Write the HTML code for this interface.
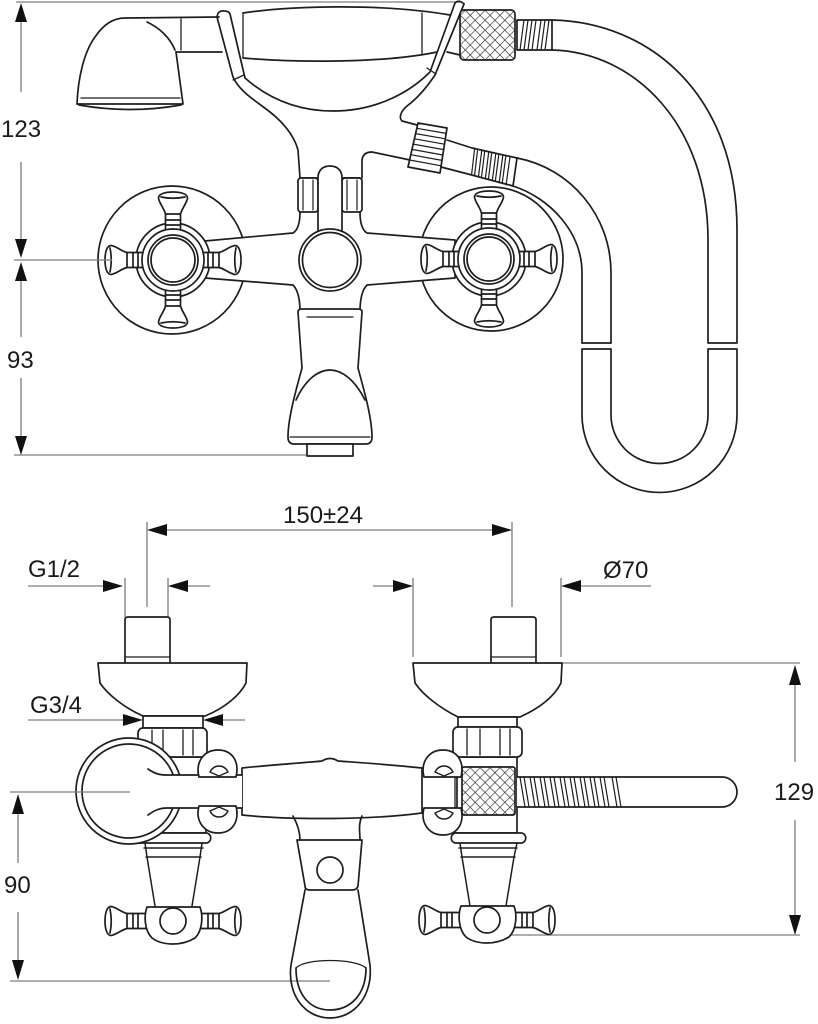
<!DOCTYPE html>
<html><head><meta charset="utf-8"><style>
html,body{margin:0;padding:0;background:#fff;}
svg{display:block;}
text{font-family:"Liberation Sans",Arial,sans-serif;font-size:24px;fill:#1a1a1a;}
</style></head><body>
<svg width="818" height="1024" viewBox="0 0 818 1024" xmlns="http://www.w3.org/2000/svg">
<defs>
 <pattern id="knurl" width="7" height="7" patternUnits="userSpaceOnUse" patternTransform="rotate(45)">
  <rect width="7" height="7" fill="#fff"/>
  <path d="M0,0 L0,7 M0,0 L7,0" stroke="#222" stroke-width="1.2"/>
 </pattern>
 <g id="spoke">
  <path d="M-7.5,-26 L-7.5,-46 C-9,-52 -14,-57 -14.5,-62 C-14.5,-66 -8,-68 0,-68 C8,-68 14.5,-66 14.5,-62 C14,-57 9,-52 7.5,-46 L7.5,-26 Z" fill="#fff"/>
  <path d="M-7.5,-46 L7.5,-46 M-7.5,-40 L7.5,-40 M-7.5,-35 L7.5,-35 M-12,-63 Q0,-60.5 12,-63" fill="none"/>
 </g>
 <g id="knobTop">
  <circle r="37" fill="#fff"/>
  <use href="#spoke"/>
  <use href="#spoke" transform="rotate(90)"/>
  <use href="#spoke" transform="rotate(180)"/>
  <use href="#spoke" transform="rotate(270)"/>
  <circle r="31" fill="#fff"/>
  <circle r="25" fill="#fff"/>
  <circle r="22" fill="none"/>
 </g>
 <g id="knobSide">
  <use href="#spoke" transform="rotate(-90)"/>
  <use href="#spoke" transform="rotate(90)"/>
  <path d="M-26,-14 L27,-14 C30,-6 30,9 22,17 Q12,23 0,23 Q-13,23 -21,17 C-29,9 -29,-6 -26,-14 Z" fill="#fff"/>
  <circle cx="0" cy="0" r="13" fill="#fff"/>
 </g>
</defs>

<!-- ================= DIMENSIONS (grey lines) ================= -->
<g stroke="#7d7d7d" stroke-width="1.3" fill="none">
 <path d="M16,2 L462,2"/>
 <path d="M21,20 L21,92 M21,162 L21,240"/>
 <path d="M21,280 L21,337 M21,378 L21,437"/>
 <path d="M14,455 L307,455"/>
 <path d="M165,530 L494,530 M147,522 L147,607 M512,522 L512,607"/>
 <path d="M28,586 L104,586 M125,578 L125,617 M186,586 L210,586 M168,578 L168,617"/>
 <path d="M373,586 L394,586 M413,578 L413,657 M580,586 L651,586 M561,578 L561,657"/>
 <path d="M28,720 L124,720 M222,720 L245,720"/>
 <path d="M562,663 L800,663 M795,684 L795,762 M795,820 L795,916 M505,935 L800,935"/>
 <path d="M18,812 L18,863 M18,912 L18,962 M10,981 L330,981"/>
</g>
<g fill="#111" stroke="none">
 <polygon points="21,3 15,22 27,22"/>
 <polygon points="21,258 15,239 27,239"/>
 <polygon points="21,262 15,281 27,281"/>
 <polygon points="21,455 15,436 27,436"/>
 <polygon points="147,530 167,524 167,536"/>
 <polygon points="512,530 492,524 492,536"/>
 <polygon points="123,586 103,580 103,592"/>
 <polygon points="168,586 188,580 188,592"/>
 <polygon points="413,586 393,580 393,592"/>
 <polygon points="561,586 581,580 581,592"/>
 <polygon points="143,720 123,714 123,726"/>
 <polygon points="203,720 223,714 223,726"/>
 <polygon points="795,665 789,685 801,685"/>
 <polygon points="795,935 789,915 801,915"/>
 <polygon points="18,794 12,814 24,814"/>
 <polygon points="18,980 12,960 24,960"/>
</g>
<text x="1" y="137">123</text>
<text x="7" y="368">93</text>
<text x="283" y="523">150±24</text>
<text x="28" y="577">G1/2</text>
<text x="603" y="578">Ø70</text>
<text x="30" y="713">G3/4</text>
<text x="774" y="800">129</text>
<text x="4" y="893">90</text>

<!-- ================= TOP VIEW ================= -->
<g stroke="#1e1e1e" stroke-width="1.7" fill="none" stroke-linejoin="round" stroke-linecap="round">
 <path d="M77,104 C78,78 84,52 95,37 C103,25 113,18 125,18 L219,17"/>
 <path d="M147,22 C160,28 170,38 175,50"/>
 <path d="M176,52 L183,104 L77,104"/>
 <path d="M79,105 Q130,114 181,105"/>
 <path d="M81,98 L180,98" stroke-width="1.3"/>
 <path d="M176,52 L222,52"/>
 <path d="M181,19 L181,50" stroke-width="1.3"/>

 <path d="M243,13 C290,6 380,3 450,15"/>
 <path d="M243,58 C290,62 380,64 437,52"/>
 <path d="M243,13 L243,58" stroke-width="1.3"/>
 <path d="M422,13 L422,55" stroke-width="1.3"/>
 <path d="M447,52 L460,55"/>

 <path d="M217,17 Q218,10 224,11 Q229,11 230,14"/>
 <path d="M217,17 L233,77 C238,88 248,96 262,106 C282,120 294,135 298,150 L300,178"/>
 <path d="M230,14 L245,78 C270,100 300,111 333,111 C370,111 405,97 430,72 L455,3"/>
 <path d="M455,3 Q459,-1 464,4"/>
 <path d="M464,4 L435,75 C425,90 415,100 407,106 C400,112 399,118 402,121 L417,125"/>
 <path d="M233,80 L244,75 M427,68 L436,74" stroke-width="1.3"/>

 <rect x="460" y="10" width="55" height="50" rx="4" fill="url(#knurl)"/>
 <rect x="517" y="20" width="35" height="30" fill="#fff"/>
 <path d="M520,50 L524,20 M524,50 L528,20 M528,50 L532,20 M532,50 L536,20 M537,50 L541,20 M541,50 L545,20 M545,50 L549,20" stroke-width="1.2"/>

 <path d="M552,20 C650,22 737,95 737,230 L737,343 L708,343 L708,240 C708,125 635,52 552,50"/>
 <path d="M582,343 L611,343"/>
 <path d="M582,349 L611,349 L611,415 A48.5,48.5 0 0 0 708,415 L708,349 L737,349 L737,415 A77.5,77.5 0 0 1 582,415 Z"/>

 <path d="M517,158 C570,168 611,215 611,273 L611,343"/>
 <path d="M513,186 C550,198 582,232 582,273 L582,343"/>

 <circle cx="172" cy="260" r="74" fill="#fff"/>
 <circle cx="491" cy="259" r="72" fill="#fff"/>

 <path d="M362,178 L362,160 Q363,152 372,152 L410,160"/>
 <path d="M447,140 L472,148 L517,158 L513,186 L468,174 L441,167" fill="#fff"/>
 <path d="M474.7,148.1 L471.6,174.4 M477.7,148.8 L474.6,175 M481.8,149.8 L478.5,176.5 M484.8,150.5 L481.5,177.2 M488.8,151.4 L485.4,178.6 M491.8,152.1 L488.4,179.3 M495.9,153.1 L492.3,180.7 M498.9,153.8 L495.3,181.4 M502.9,154.7 L499.2,182.8 M505.9,155.4 L502.2,183.5 M510,156.4 L506.1,184.9" stroke-width="1.2"/>
 <polygon points="418,123 447,128 440,173 408,167" fill="#fff"/>
 <path d="M416.8,128.3 L446.2,133.4 M415.6,133.6 L445.3,138.8 M414.4,138.8 L444.5,144.2 M413.2,144.1 L443.6,149.6 M412,149.4 L442.8,155 M410.8,154.7 L442,160.4 M409.6,160 L441.1,165.8" stroke-width="1.2"/>

 <path d="M205,241 L293,233 C298,230 300,222 300,212 L300,178 L360,178 L360,212 C360,222 362,230 367,233 L455,240 L455,278 L367,285 C362,290 360,300 360,312 L300,312 C300,300 298,290 293,285 L205,278 Z" fill="#fff"/>
 <rect x="298" y="178" width="20" height="34" rx="3" fill="#fff"/>
 <rect x="342" y="178" width="20" height="34" rx="3" fill="#fff"/>
 <path d="M303,180 L303,210 M313,180 L313,210 M347,180 L347,210 M357,180 L357,210" stroke-width="1.2"/>
 <path d="M318,232 L318,178 C318,170 323,166 330,166 C337,166 342,170 342,178 L342,232" fill="#fff"/>
 <circle cx="330" cy="260" r="31" fill="#fff"/>
 <circle cx="330" cy="260" r="27.5" fill="none"/>

 <use href="#knobTop" transform="translate(173,260)"/>
 <use href="#knobTop" transform="translate(489,259)"/>

 <path d="M298,312 Q298,309 302,309 L358,309 Q362,309 362,312 L358,368 C364,390 372,418 372,437 Q372,444 366,444 L294,444 Q288,444 288,437 C288,418 296,390 302,368 Z" fill="#fff"/>
 <path d="M307,317 L353,317" stroke-width="1.3"/>
 <path d="M296,400 C305,380 318,370 330,370 C342,370 355,380 365,400"/>
 <path d="M290,437 L370,437" stroke-width="1.3"/>
 <rect x="307" y="444" width="46" height="12" fill="#fff"/>
</g>

<!-- ================= BOTTOM VIEW ================= -->
<g stroke="#1e1e1e" stroke-width="1.7" fill="none" stroke-linejoin="round" stroke-linecap="round">
 <path d="M125,663 L125,620 Q125,617 128,617 L167,617 Q170,617 170,620 L170,663" fill="#fff"/>
 <path d="M125,657 L170,657" stroke-width="1.3"/>
 <path d="M491,663 L491,620 Q491,617 494,617 L533,617 Q536,617 536,620 L536,663" fill="#fff"/>
 <path d="M491,657 L536,657" stroke-width="1.3"/>

 <path d="M98,663 L247,663 L246,683 C240,695 225,708 205,716 L143,716 C125,708 108,695 100,683 Z" fill="#fff"/>
 <path d="M413,663 L562,663 L561,683 C555,695 542,707 520,717 L458,717 C440,708 423,695 415,683 Z" fill="#fff"/>
 <rect x="143" y="716" width="60" height="12" fill="#fff"/>
 <rect x="458" y="717" width="59" height="10" fill="#fff"/>

 <rect x="143" y="757" width="63" height="76" fill="#fff"/>
 <rect x="453" y="757" width="64" height="76" fill="#fff"/>
 <rect x="138" y="728" width="69" height="29" rx="5" fill="#fff"/>
 <path d="M152,730 L152,755 M163,730 L163,755 M183,730 L183,755 M193,730 L193,755" stroke-width="1.3"/>
 <rect x="453" y="727" width="69" height="30" rx="5" fill="#fff"/>
 <path d="M467,729 L467,755 M480,729 L480,755 M500,729 L500,755 M510,729 L510,755" stroke-width="1.3"/>

 <path d="M140,833 L207,833 C212,835 212,841 207,843 L140,843 C135,841 135,835 140,833 Z" fill="#fff"/>
 <path d="M144,848 L203,848 M146,857 L201,857 M145,843 L147,857 L155,906 M202,843 L200,857 L192,906" stroke-width="1.5"/>
 <path d="M455,833 L522,833 C527,835 527,841 522,843 L455,843 C450,841 450,835 455,833 Z" fill="#fff"/>
 <path d="M459,848 L517,848 M461,857 L515,857 M460,843 L462,857 L470,906 M517,843 L514,857 L506,906" stroke-width="1.5"/>

 <use href="#knobSide" transform="translate(173,921)"/>
 <use href="#knobSide" transform="translate(487,920)"/>

 <path d="M517,777 L722,777 A15,15 0 0 1 722,807 L517,807" fill="#fff"/>
 <path d="M520,777 L525,807 M524,777 L529,807 M530,777 L535,807 M534,777 L539,807 M540,777 L545,807 M544,777 L549,807 M550,777 L555,807 M554,777 L559,807 M560,777 L565,807 M564,777 L569,807 M570,777 L575,807 M574,777 L579,807 M580,777 L585,807 M584,777 L589,807 M590,777 L595,807 M594,777 L599,807 M600,777 L605,807 M604,777 L609,807 M612,777 L617,807 M616,777 L621,807" stroke-width="1.2"/>
 <rect x="462" y="767" width="53" height="48" rx="2" fill="url(#knurl)"/>

 <path d="M422,770 L457,770 L457,813 L422,813" fill="#fff"/>
 <path d="M455,770 L455,813" stroke-width="1.3"/>

 <path d="M242,768 C280,764 315,762 322,761 Q330,756 338,761 C350,762 385,764 422,768 L422,813 C370,820 290,820 242,815 Z" fill="#fff"/>

 <path d="M293,816 C298,825 300,832 300,840 M362,816 C358,825 360,832 360,840"/>
 <path d="M297,840 L362,840 L358,886 Q357,890 352,890 L310,890 Q305,890 305,886 Z" fill="#fff"/>
 <circle cx="330" cy="870" r="13" fill="#fff"/>
 <path d="M305,890 L291,965 C287,995 305,1018 330,1018 C355,1018 373,995 370,965 L358,890"/>
 <path d="M296,968 C296,995 310,1010 330,1010 C350,1010 366,995 366,968"/>
 <path d="M296,968 C305,958 355,958 366,968" stroke-width="1.3"/>

 <circle cx="129" cy="791" r="53" fill="#fff"/>
 <circle cx="129" cy="791" r="47"/>
 <rect x="166" y="775" width="76" height="33" fill="#fff" stroke="none"/>
 <path d="M148,769 C155,774 160,775 167,775 L242,775"/>
 <path d="M148,815 C155,810 160,808 167,808 L242,808"/>

 <g fill="#fff">
  <path d="M199,777 C195,762 204,750 218,750 C231,750 240,760 236,777 Z"/>
  <path d="M199,806 C195,821 204,833 218,833 C231,833 240,823 236,806 Z"/>
  <path d="M424,777 C420,762 429,750 443,750 C456,750 465,760 461,777 Z"/>
  <path d="M424,808 C420,823 429,835 443,835 C456,835 465,825 461,808 Z"/>
 </g>
 <path d="M210,772 C214,764 224,764 228,772 L219,776 Z M210,811 C214,819 224,819 228,811 L219,807 Z M435,772 C439,764 449,764 453,772 L444,776 Z M435,813 C439,821 449,821 453,813 L444,809 Z" stroke-width="1.4"/>
</g>
<path d="M10,792 L130,792" stroke="#7d7d7d" stroke-width="1.3"/>
<path d="M14,260 L112,260" stroke="#7d7d7d" stroke-width="1.3"/>
</svg>
</body></html>
